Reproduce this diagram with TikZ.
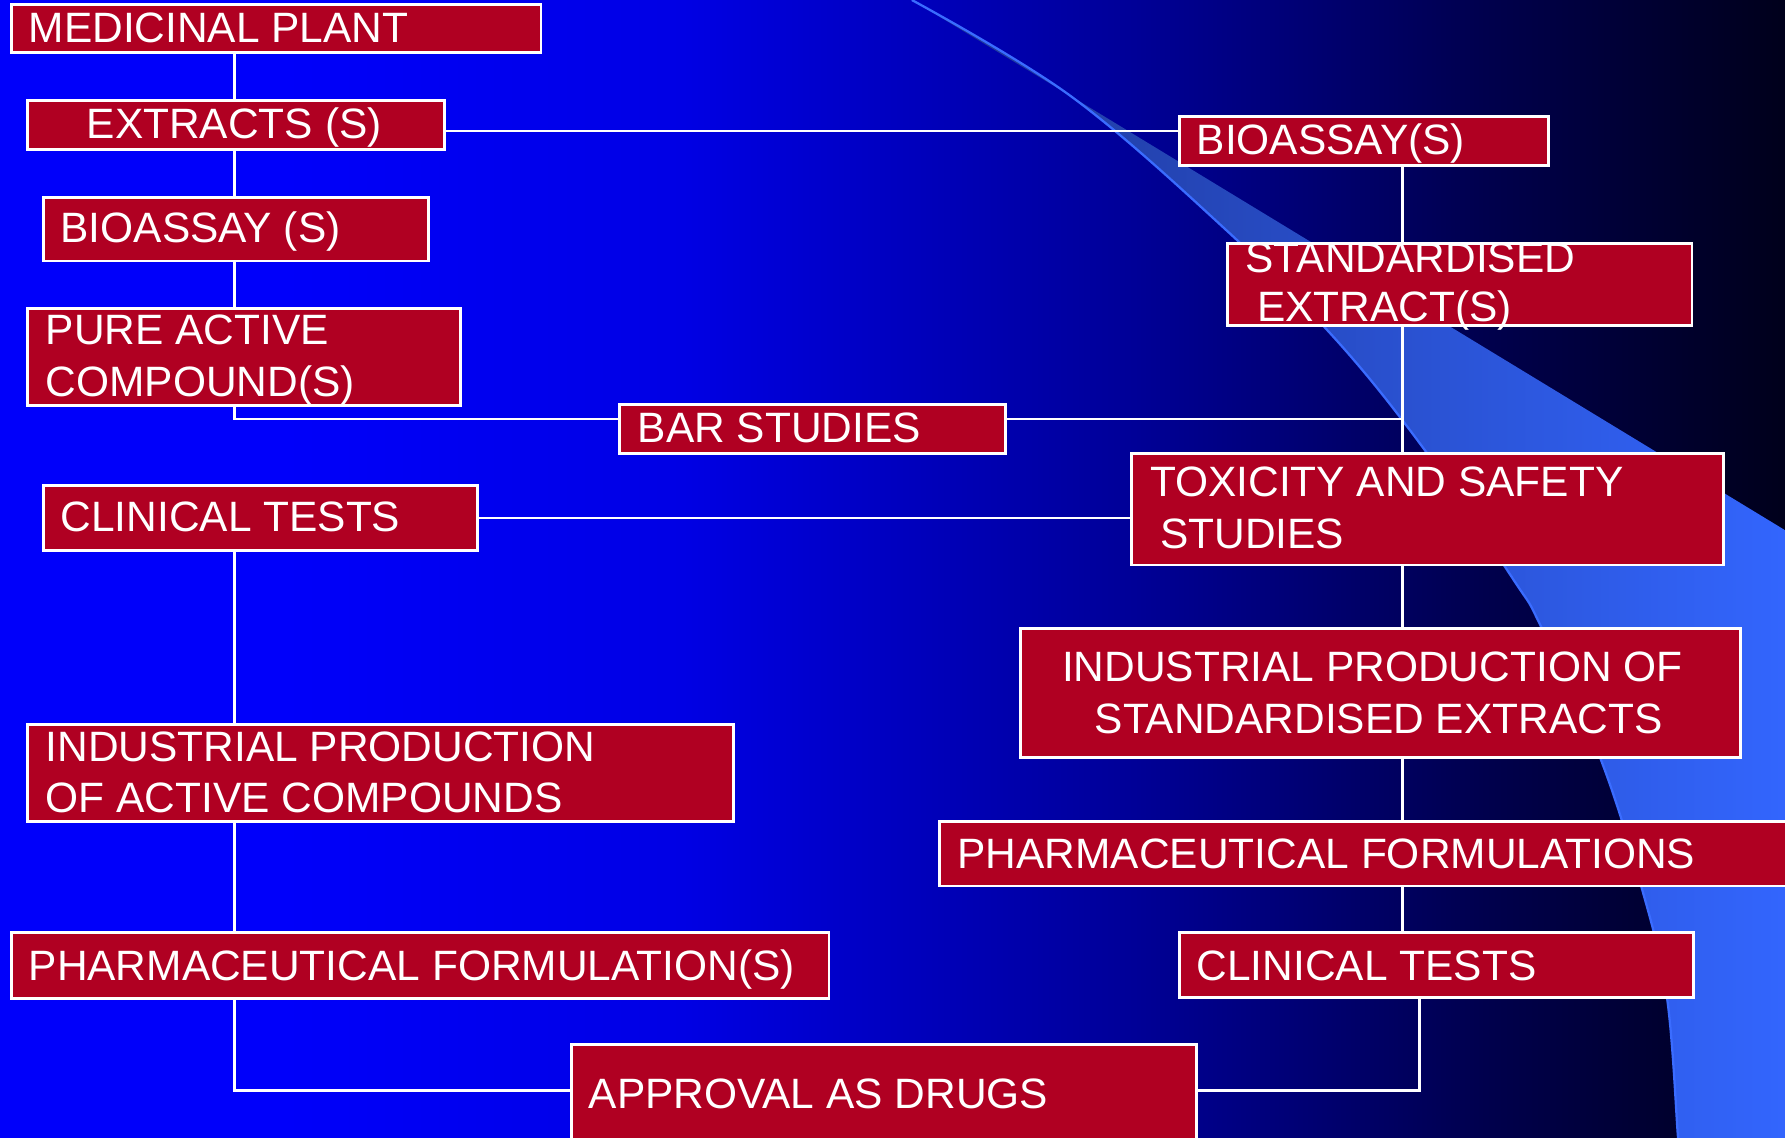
\documentclass[tikz,border=0pt]{standalone}
\usepackage{fontspec}
\setmainfont{Liberation Sans}
\definecolor{boxred}{RGB}{176,0,34}
\definecolor{bgA}{RGB}{0,0,250}
\definecolor{bgB}{RGB}{0,0,228}
\definecolor{bgC}{RGB}{0,0,150}
\definecolor{bgD}{RGB}{0,0,78}
\definecolor{bgE}{RGB}{0,0,25}
\definecolor{swA}{RGB}{30,55,150}
\definecolor{swB}{RGB}{44,82,205}
\definecolor{swC}{RGB}{51,102,255}
\definecolor{swLine}{RGB}{58,108,255}
\newcommand\rb[5]{\node[rbox, minimum width={#4-#2}, minimum height={#5-#3}] (#1) at (#2,#3) {};}
\begin{document}
\begin{tikzpicture}[x=1pt,y=-1pt,
  rbox/.style={draw=white, line width=2.5pt, fill=boxred, rectangle, inner sep=0pt, anchor=north west},
  ltxt/.style={text=white, inner sep=0pt, font=\fontsize{37.3}{45}\selectfont, anchor=base west},
  ctxt/.style={ltxt, anchor=base},
  wire/.style={draw=white, line width=2pt}]
\useasboundingbox (0,0) rectangle (1568,999);
\clip (-10,-10) rectangle (1580,1010);
% background gradient
\fill[bgA] (-10,-10) rectangle (251,1010);
\shade[left color=bgA, right color=bgB] (250,-10) rectangle (601,1010);
\shade[left color=bgB, right color=bgC] (600,-10) rectangle (1001,1010);
\shade[left color=bgC, right color=bgD] (1000,-10) rectangle (1301,1010);
\shade[left color=bgD, right color=bgE] (1300,-10) rectangle (1580,1010);
% swoosh
\shade[left color=swA, middle color=swB, right color=swC]
  plot[smooth, tension=0.6] coordinates {(801,0) (940,84) (1077,202) (1175,300) (1255,400) (1330,510) (1353,549) (1405,664) (1441,776) (1464,874) (1474,999) (1475,1010)}
  -- (1580,1010) -- (1580,473) -- (940,84) -- cycle;
\draw[swLine, line width=2pt]
  plot[smooth, tension=0.6] coordinates {(801,0) (940,84) (1077,202) (1175,300) (1255,400) (1330,510) (1353,549) (1405,664) (1441,776) (1464,874) (1474,999) (1475,1010)};
% guide coordinates
\coordinate (xL) at (206,0);
\coordinate (xR) at (1232,0);
\coordinate (xR2) at (1247,0);
\coordinate (yExt) at (0,115);
\coordinate (yBar) at (0,368);
\coordinate (yAp) at (0,958);
% boxes
\rb{b1}{9}{3}{474}{45}
\rb{b2}{23}{87}{389}{130}
\rb{b3}{37}{172}{375}{228}
\rb{b4}{23}{270}{403}{355}
\rb{b5}{543}{354}{882}{397}
\rb{b6}{37}{425}{418}{482}
\rb{b7}{23}{635}{643}{720}
\rb{b8}{9}{818}{727}{876}
\rb{b9}{501}{916}{1050}{1012}
\rb{b10}{1035}{101}{1359}{144}
\rb{b11}{1077}{213}{1485}{285}
\rb{b12}{993}{397}{1513}{495}
\rb{b13}{895}{551}{1528}{664}
\rb{b14}{824}{720}{1585}{777}
\rb{b15}{1035}{818}{1486}{875}
% connectors
\draw[wire] (b1.south -| xL) -- (b2.north -| xL);
\draw[wire] (b2.south -| xL) -- (b3.north -| xL);
\draw[wire] (b3.south -| xL) -- (b4.north -| xL);
\draw[wire] (b4.south -| xL) |- (b5.west |- yBar);
\draw[wire] (b2.east |- yExt) -- (b10.west |- yExt);
\draw[wire] (b10.south -| xR) -- (b11.north -| xR);
\draw[wire] (b11.south -| xR) -- (b12.north -| xR);
\draw[wire] (b5.east |- yBar) -- (xR |- yBar);
\draw[wire] (b6.east) -- (b12.west |- b6.east);
\draw[wire] (b6.south -| xL) -- (b7.north -| xL);
\draw[wire] (b7.south -| xL) -- (b8.north -| xL);
\draw[wire] (b8.south -| xL) |- (b9.west |- yAp);
\draw[wire] (b12.south -| xR) -- (b13.north -| xR);
\draw[wire] (b13.south -| xR) -- (b14.north -| xR);
\draw[wire] (b14.south -| xR) -- (b15.north -| xR);
\draw[wire] (b15.south -| xR2) |- (b9.east |- yAp);
% texts
\node[ltxt] (t1) at (25,37.5) {MEDICINAL PLANT};
\node[ltxt] (t2) at (76,121.5) {EXTRACTS (S)};
\node[ltxt] (t3) at (53,213) {BIOASSAY (S)};
\node[ltxt] (t4a) at (40,303) {PURE ACTIVE};
\node[ltxt] (t4b) at (40,348) {COMPOUND(S)};
\node[ltxt] (t5) at (560,389) {BAR STUDIES};
\node[ltxt] (t6) at (53,466.5) {CLINICAL TESTS};
\node[ltxt] (t7a) at (40,668.5) {INDUSTRIAL PRODUCTION};
\node[ltxt] (t7b) at (40,713.6) {OF ACTIVE COMPOUNDS};
\node[ltxt] (t8) at (25,861) {PHARMACEUTICAL FORMULATION(S)};
\node[ltxt] (t9) at (517,973.6) {APPROVAL AS DRUGS};
\node[ltxt] (t10) at (1051,136) {BIOASSAY(S)};
\node[ltxt] (t11a) at (1094,239.7) {STANDARDISED};
\node[ltxt] (t11b) at (1104,282.4) {EXTRACT(S)};
\node[ltxt] (t12a) at (1010,436.4) {TOXICITY AND SAFETY};
\node[ltxt] (t12b) at (1019,481.4) {STUDIES};
\node[ctxt] (t13a) at (1205.5,599) {INDUSTRIAL PRODUCTION OF};
\node[ctxt] (t13b) at (1211,644.3) {STANDARDISED EXTRACTS};
\node[ltxt] (t14) at (841,762.6) {PHARMACEUTICAL FORMULATIONS};
\node[ltxt] (t15) at (1051,861) {CLINICAL TESTS};
\end{tikzpicture}
\end{document}
